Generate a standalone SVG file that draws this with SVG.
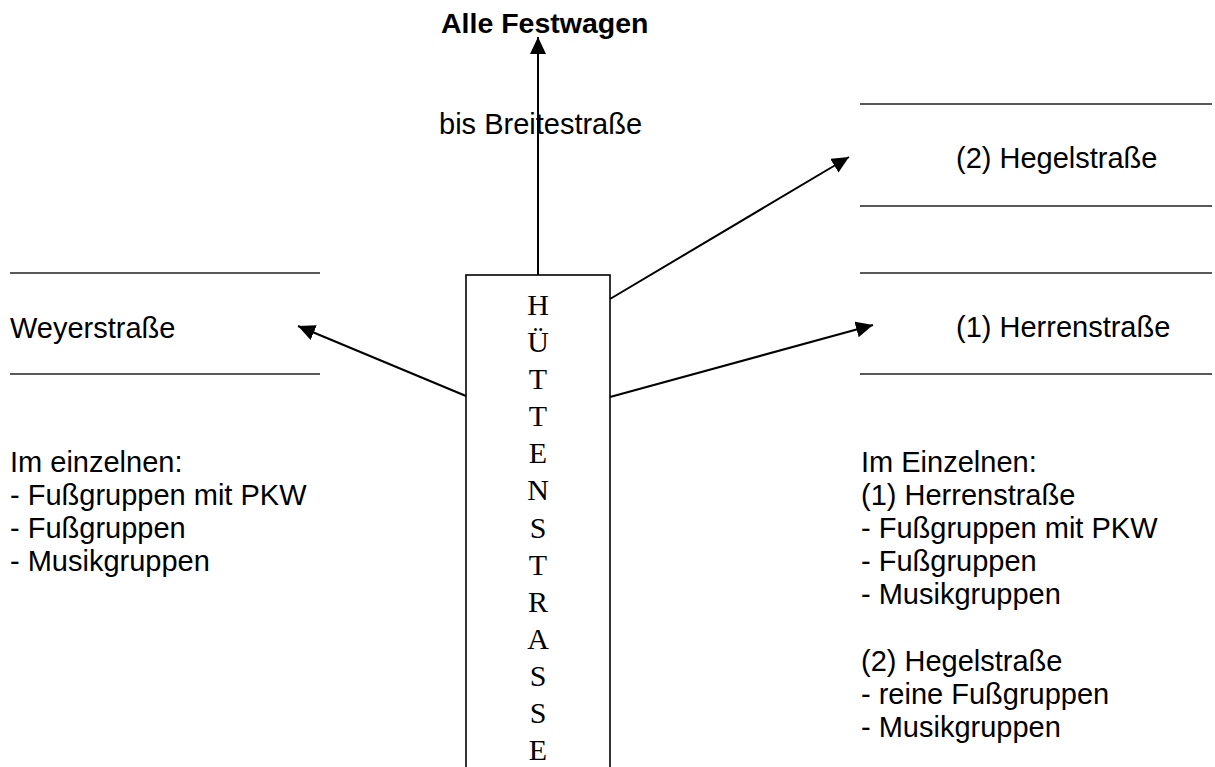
<svg xmlns="http://www.w3.org/2000/svg" width="1215" height="767" viewBox="0 0 1215 767">
<defs>
<marker id="ah" markerUnits="userSpaceOnUse" markerWidth="18" markerHeight="16" viewBox="0 0 18 16" refX="17" refY="8" orient="auto">
<path d="M0,0 L17,8 L0,16 Z" fill="#000"/>
</marker>
<style>
.t{font-family:"Liberation Sans",Arial,sans-serif;font-size:29px;fill:#000}
.b{font-family:"Liberation Sans",Arial,sans-serif;font-size:28.5px;font-weight:bold;fill:#000}
.v{font-family:"Liberation Serif","Times New Roman",serif;font-size:30px;fill:#000;text-anchor:middle}
.ul{stroke:#222;stroke-width:1.6}
.c{stroke:#000;stroke-width:2;fill:none;marker-end:url(#ah)}
</style>
</defs>
<rect width="1215" height="767" fill="#fff"/>
<g id="connectors">
<line class="c" x1="538" y1="275" x2="538" y2="37"/>
<line class="c" x1="610" y1="299" x2="849" y2="157"/>
<line class="c" x1="610" y1="397" x2="873" y2="325"/>
<line class="c" x1="466" y1="396" x2="298" y2="326"/>
</g>
<g id="huettenstrasse">
<rect x="466" y="275" width="144" height="520" fill="none" stroke="#000" stroke-width="1.6"/>
<text class="v" x="538" y="315">H</text>
<text class="v" x="538" y="352">Ü</text>
<text class="v" x="538" y="389">T</text>
<text class="v" x="538" y="426">T</text>
<text class="v" x="538" y="463">E</text>
<text class="v" x="538" y="500">N</text>
<text class="v" x="538" y="538">S</text>
<text class="v" x="538" y="575">T</text>
<text class="v" x="538" y="612">R</text>
<text class="v" x="538" y="649">A</text>
<text class="v" x="538" y="686">S</text>
<text class="v" x="538" y="723">S</text>
<text class="v" x="538" y="760">E</text>
</g>
<g id="festwagen">
<text class="b" x="441" y="33">Alle Festwagen</text>
<text class="t" x="439" y="134">bis Breitestraße</text>
</g>
<g id="hegelstrasse">
<line class="ul" x1="860" y1="104" x2="1212" y2="104"/>
<text class="t" x="956" y="168">(2) Hegelstraße</text>
<line class="ul" x1="860" y1="206" x2="1212" y2="206"/>
</g>
<g id="herrenstrasse">
<line class="ul" x1="860" y1="273" x2="1212" y2="273"/>
<text class="t" x="956" y="337">(1) Herrenstraße</text>
<line class="ul" x1="860" y1="374" x2="1212" y2="374"/>
</g>
<g id="weyerstrasse">
<line class="ul" x1="10" y1="273" x2="320" y2="273"/>
<text class="t" x="10" y="338">Weyerstraße</text>
<line class="ul" x1="10" y1="374" x2="320" y2="374"/>
</g>
<g id="left-details">
<text class="t" x="10" y="472">Im einzelnen:</text>
<text class="t" x="10" y="505">- Fußgruppen mit PKW</text>
<text class="t" x="10" y="538">- Fußgruppen</text>
<text class="t" x="10" y="571">- Musikgruppen</text>
</g>
<g id="right-details">
<text class="t" x="861" y="472">Im Einzelnen:</text>
<text class="t" x="861" y="505">(1) Herrenstraße</text>
<text class="t" x="861" y="538">- Fußgruppen mit PKW</text>
<text class="t" x="861" y="571">- Fußgruppen</text>
<text class="t" x="861" y="604">- Musikgruppen</text>
<text class="t" x="861" y="671">(2) Hegelstraße</text>
<text class="t" x="861" y="704">- reine Fußgruppen</text>
<text class="t" x="861" y="737">- Musikgruppen</text>
</g>
</svg>
